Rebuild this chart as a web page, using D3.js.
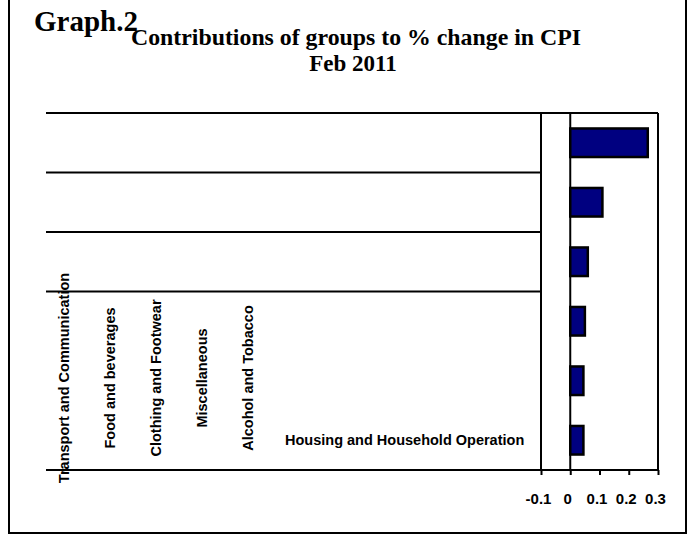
<!DOCTYPE html>
<html>
<head>
<meta charset="utf-8">
<script src="https://cdn.jsdelivr.net/npm/d3@7"></script>
<style>
  body { margin: 0; background: #fff; }
  svg { display: block; }
</style>
</head>
<body>
<div id="chart"></div>
<script>
// groups, top bar first
const categories = [
  "Transport and Communication",
  "Food and beverages",
  "Clothing and Footwear",
  "Miscellaneous",
  "Alcohol and Tobacco",
  "Housing and Household Operation"
];
const values = [0.265, 0.11, 0.06, 0.05, 0.045, 0.045];
const tickValues = [-0.1, 0, 0.1, 0.2, 0.3];
const tickLabels = ["-0.1", "0", "0.1", "0.2", "0.3"];

const W = 690, H = 535;
const plot = { left: 541, right: 658, top: 113, bottom: 470 };
const lineLeft = 46;

const svg = d3.select("#chart").append("svg")
    .attr("width", W)
    .attr("height", H);

// outer frame
svg.append("rect")
    .attr("x", 9).attr("y", -5)
    .attr("width", 677).attr("height", 538)
    .attr("fill", "none")
    .attr("stroke", "#000")
    .attr("stroke-width", 2);

// titles
const serif = "'Liberation Serif', 'Times New Roman', serif";
svg.append("text")
    .attr("x", 34).attr("y", 31)
    .style("font-family", serif)
    .style("font-weight", "bold")
    .style("font-size", "29px")
    .text("Graph.2");

svg.append("text")
    .attr("x", 356).attr("y", 45)
    .attr("text-anchor", "middle")
    .attr("textLength", 450)
    .attr("lengthAdjust", "spacingAndGlyphs")
    .style("font-family", serif)
    .style("font-weight", "bold")
    .style("font-size", "23px")
    .text("Contributions of groups to % change in CPI");

svg.append("text")
    .attr("x", 353).attr("y", 71)
    .attr("text-anchor", "middle")
    .style("font-family", serif)
    .style("font-weight", "bold")
    .style("font-size", "23px")
    .text("Feb 2011");

const x = d3.scaleLinear().domain([-0.1, 0.3]).range([plot.left, plot.right]);
const y = d3.scaleBand().domain(categories)
    .range([plot.top, plot.bottom])
    .paddingInner(0.52)
    .paddingOuter(0.26);

const outerPad = y.step() * 0.26;

// category separator lines (only the upper ones are drawn in the original)
svg.append("g").selectAll("line")
    .data(categories.slice(0, 4))
    .enter()
    .append("line")
    .attr("x1", lineLeft)
    .attr("x2", function (d, i) { return i === 0 ? plot.right : x(-0.1); })
    .attr("y1", function (d) { return y(d) - outerPad; })
    .attr("y2", function (d) { return y(d) - outerPad; })
    .attr("stroke", "#000")
    .attr("stroke-width", 2);

// bottom axis line
svg.append("line")
    .attr("x1", lineLeft).attr("x2", plot.right)
    .attr("y1", plot.bottom).attr("y2", plot.bottom)
    .attr("stroke", "#000").attr("stroke-width", 2);

// vertical lines: left edge, zero line, right edge
svg.append("g").selectAll("line")
    .data([-0.1, 0, 0.3])
    .enter()
    .append("line")
    .attr("x1", function (d) { return x(d); })
    .attr("x2", function (d) { return x(d); })
    .attr("y1", plot.top).attr("y2", plot.bottom)
    .attr("stroke", "#000").attr("stroke-width", 2);

// ticks
const xAxis = svg.append("g")
    .attr("transform", "translate(0," + plot.bottom + ")")
    .call(d3.axisBottom(x).tickValues(tickValues).tickSize(5).tickSizeOuter(0)
        .tickFormat(function (d, i) { return tickLabels[i]; }));
xAxis.select(".domain").remove();
xAxis.selectAll(".tick line").attr("stroke", "#000").attr("stroke-width", 2);
xAxis.selectAll(".tick text")
    .attr("dx", -3)
    .attr("y", 34)
    .attr("dy", 0)
    .attr("fill", "#000")
    .style("font-family", "'Liberation Sans', Arial, sans-serif")
    .style("font-weight", "bold")
    .style("font-size", "15px");

// bars
svg.append("g").selectAll("rect")
    .data(categories)
    .enter()
    .append("rect")
    .attr("x", function (d, i) { return x(Math.min(0, values[i])); })
    .attr("y", function (d) { return y(d); })
    .attr("width", function (d, i) { return Math.abs(x(values[i]) - x(0)); })
    .attr("height", y.bandwidth())
    .attr("fill", "#000080")
    .attr("stroke", "#000")
    .attr("stroke-width", 2.5);

// category labels, strewn across the left side as in the original
const lx = d3.scalePoint().domain(categories).range([64, 294]);
const labelMidY = 378;
const labels = svg.append("g")
    .style("font-family", "'Liberation Sans', Arial, sans-serif")
    .style("font-weight", "bold")
    .style("font-size", "14.5px");

labels.selectAll("text.v")
    .data(categories.slice(0, 5))
    .enter()
    .append("text")
    .attr("class", "v")
    .attr("transform", function (d) { return "translate(" + lx(d) + "," + labelMidY + ") rotate(-90)"; })
    .attr("text-anchor", "middle")
    .attr("dy", "0.35em")
    .text(function (d) { return d; });

labels.selectAll("text.h")
    .data(categories.slice(5))
    .enter()
    .append("text")
    .attr("class", "h")
    .attr("x", function (d) { return lx(d) - 9; })
    .attr("y", function (d) { return y(d) + y.bandwidth() / 2; })
    .attr("dy", "0.35em")
    .text(function (d) { return d; });
</script>
</body>
</html>
